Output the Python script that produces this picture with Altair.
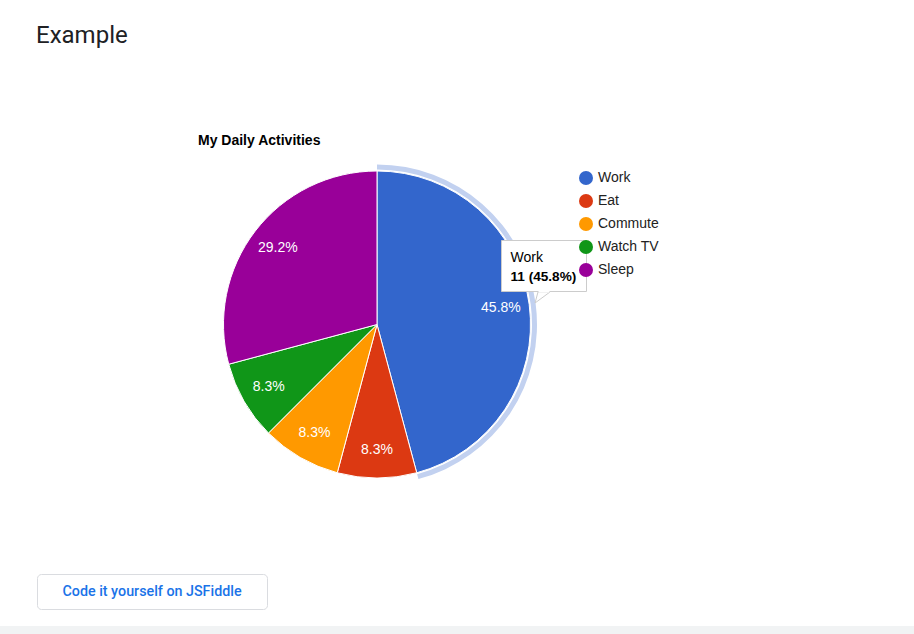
import altair as alt
import pandas as pd

# ---- data ----
activities = ["Work", "Eat", "Commute", "Watch TV", "Sleep"]
hours = [11, 2, 2, 2, 7]
colors = ["#3366cc", "#dc3912", "#ff9900", "#109618", "#990099"]
chart_title = "My Daily Activities"
page_title = "Example"
button_label = "Code it yourself on JSFiddle"
highlighted = "Work"

df = pd.DataFrame({"activity": activities, "hours": hours,
                   "idx": list(range(len(activities)))})
total_hours = sum(hours)

ARIAL = "Liberation Sans, Arial, sans-serif"
CX, CY, R = 377, 324.5, 153.5

base = (
    alt.Chart(df)
    .transform_stack(stack="hours", groupby=[], as_=["start", "end"],
                     sort=[alt.SortField("idx", order="ascending")])
    .transform_joinaggregate(total="sum(hours)")
    .transform_calculate(
        mid="(datum.start + datum.end) / 2",
        pct="format(datum.hours / datum.total, '.1%')",
        tip="datum.hours + ' (' + format(datum.hours / datum.total, '.1%') + ')'",
    )
)
single = base.transform_filter(alt.datum.activity == highlighted)

theta_scale = alt.Scale(domain=[0, total_hours], nice=False, zero=True)
cx = alt.value(CX)
cy = alt.value(CY)

# page decoration
band = single.mark_rect(color="#f1f3f4").encode(
    x=alt.value(0), x2=alt.value(914), y=alt.value(626), y2=alt.value(634))
button = single.mark_rect(fill="white", stroke="#dadce0", strokeWidth=1,
                          cornerRadius=4).encode(
    x=alt.value(37.5), x2=alt.value(267.5), y=alt.value(574.5), y2=alt.value(609.5))
button_text = single.mark_text(font="Roboto", fontSize=14.3, fontWeight=500,
                               color="#1a73e8", align="center",
                               baseline="middle").encode(
    x=alt.value(152), y=alt.value(591.5), text=alt.value(button_label))
page_text = single.mark_text(font="Roboto", fontSize=24, fontWeight=400,
                             color="#202124", align="left",
                             baseline="alphabetic").encode(
    x=alt.value(36), y=alt.value(42.5), text=alt.value(page_title))
title_text = single.mark_text(font=ARIAL, fontSize=14, fontWeight="bold",
                              color="#000000", align="left",
                              baseline="alphabetic").encode(
    x=alt.value(198), y=alt.value(145), text=alt.value(chart_title))

# pie
pie = base.mark_arc(outerRadius=R, stroke="white", strokeWidth=1).encode(
    theta=alt.Theta("start:Q", scale=theta_scale, stack=False),
    theta2="end:Q",
    color=alt.Color(
        "activity:N",
        scale=alt.Scale(domain=activities, range=colors),
        legend=alt.Legend(
            title=None, orient="none", legendX=579, legendY=171,
            symbolType="circle", symbolSize=196, symbolStrokeWidth=0,
            symbolOpacity=1, labelFontSize=14, labelFont=ARIAL,
            labelColor="#222222", labelOffset=5, rowPadding=9, padding=0,
            zindex=0,
        ),
    ),
    x=cx, y=cy,
)
ring = single.mark_arc(innerRadius=155, outerRadius=160, color="#c2d1f0").encode(
    theta=alt.Theta("start:Q", scale=theta_scale, stack=False),
    theta2="end:Q", x=cx, y=cy)
labels = base.mark_text(radius=125, font=ARIAL, fontSize=14, color="white",
                        align="center", baseline="middle").encode(
    theta=alt.Theta("mid:Q", scale=theta_scale, stack=False),
    text="pct:N", x=cx, y=cy)

# tooltip
tip_box = single.mark_rect(fill="white", stroke="#cccccc", strokeWidth=1).encode(
    x=alt.value(501.5), x2=alt.value(586.5), y=alt.value(240.5), y2=alt.value(291.5))
tip_pointer = single.mark_point(
    shape="M-0.4,-0.5L0.8,-0.5L-0.7,0.6Z", size=400, filled=True,
    fill="white", stroke="#cccccc", strokeWidth=1, opacity=1).encode(
    x=alt.value(542), y=alt.value(297))
tip_gap = single.mark_rule(color="white", strokeWidth=2).encode(
    x=alt.value(538.5), x2=alt.value(549.5), y=alt.value(291.5))
tip_name = single.mark_text(font=ARIAL, fontSize=14, color="#000000",
                            align="left", baseline="alphabetic").encode(
    x=alt.value(510.5), y=alt.value(262), text="activity:N")
tip_value = single.mark_text(font=ARIAL, fontSize=13.6, fontWeight="bold",
                             color="#000000", align="left",
                             baseline="alphabetic").encode(
    x=alt.value(510.5), y=alt.value(281), text="tip:N")

chart = (
    alt.layer(band, button, button_text, page_text, title_text,
              pie, ring, labels, tip_box, tip_pointer, tip_gap,
              tip_name, tip_value)
    .properties(width=914, height=634, autosize="none", padding=0,
                background="white")
    .configure_view(stroke=None)
)

chart.save("out.html", embed_options={"renderer": "svg", "actions": False})
